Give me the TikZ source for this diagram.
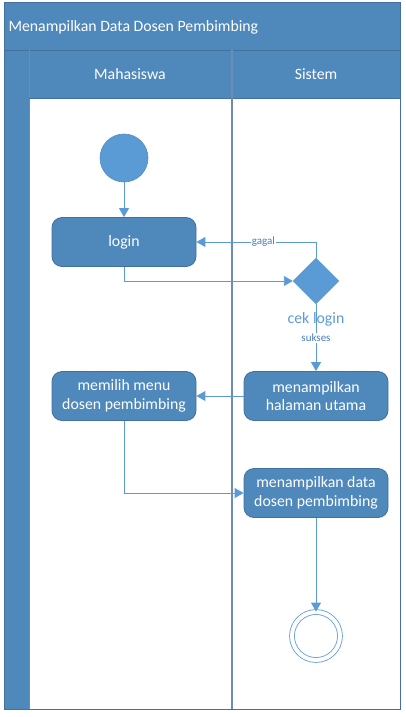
\documentclass[tikz,border=0pt]{standalone}
\usepackage{fontspec}
\setmainfont{Carlito}
\usetikzlibrary{shapes.geometric, arrows.meta}

\definecolor{laneblue}{HTML}{4F88BB}
\definecolor{laneedge}{HTML}{41719C}
\definecolor{lanerule}{HTML}{6B8DB3}
\definecolor{flowblue}{HTML}{5B9BD5}
\definecolor{labelblue}{HTML}{4A7EBB}

\begin{document}
\begin{tikzpicture}[x=1pt, y=-1pt, font=\fontsize{15.8}{18.5}\selectfont,
        % styles
        initial/.style = {
                circle, minimum size=48pt, inner sep=0pt,
                fill=flowblue, draw=flowblue!90!black, line width=0.6pt
            },
        final/.style = {
                circle, minimum size=48pt, inner sep=0pt,
                draw=flowblue, fill=white, line width=0.8pt,
                double=white, double distance=4pt
            },
        action/.style = {
                rectangle, rounded corners=10pt,
                minimum width=144pt, minimum height=49pt, align=center,
                text=white, draw=laneedge, fill=laneblue, line width=0.8pt
            },
        decision/.style = {
                diamond, aspect=1, minimum width=46pt, minimum height=46pt,
                inner sep=0pt, fill=flowblue, draw=flowblue
            },
        guard/.style = {
                fill=white, inner sep=1pt, text=labelblue,
                font=\fontsize{11}{12}\selectfont
            },
        arrow/.style = {
                draw=flowblue, line width=0.9pt,
                ->, >={Triangle[length=9pt, width=10pt]}
            }]

    \useasboundingbox (0,0) rectangle (405,717);

    % swimlanes
    \fill [laneblue] (4,2) rectangle (400,98);
    \fill [laneblue] (4,98) rectangle (29,709);
    \draw [laneedge, line width=0.8pt] (4,2) rectangle (400,709);
    \draw [laneedge, line width=0.8pt] (4,50) -- (400,50);
    \draw [lanerule, line width=1pt] (29,50) -- (29,709);
    \draw [laneedge, line width=0.8pt] (29,98) -- (400,98);
    \draw [lanerule, line width=2pt] (232,50) -- (232,709);
    \node (title) [anchor=west, text=white] at (5,27) {Menampilkan Data Dosen Pembimbing};
    \node (lane_mhs) [text=white] at (130,74) {Mahasiswa};
    \node (lane_sys) [text=white] at (316,74) {Sistem};

    % nodes
    \node (start) [initial] at (124,158) {};
    \node (login) [action, below of=start, node distance=84pt] {login};
    \node (cek) [decision, right of=login, node distance=192pt, yshift=-39pt,
        label={[text=flowblue, label distance=5pt]below:cek login}] {};
    \node (beranda) [action, below of=cek, node distance=115pt] {menampilkan\\halaman utama};
    \node (menu) [action, left of=beranda, node distance=192pt] {memilih menu\\dosen pembimbing};
    \node (data) [action, below of=beranda, node distance=97pt] {menampilkan data\\dosen pembimbing};
    \node (stop) [final, below of=data, node distance=143pt] {};

    % arrows
    \draw [arrow] (start) -- (login);
    \draw [arrow] (login) |- (cek);
    \draw [arrow] (cek) |- node[guard, pos=0.72] {gagal} (login);
    \draw [arrow] (cek) -- node[guard, pos=0.5] {sukses} (beranda);
    \draw [arrow] (beranda) -- (menu);
    \draw [arrow] (menu) |- (data);
    \draw [arrow] (data) -- (stop);

\end{tikzpicture}
\end{document}
